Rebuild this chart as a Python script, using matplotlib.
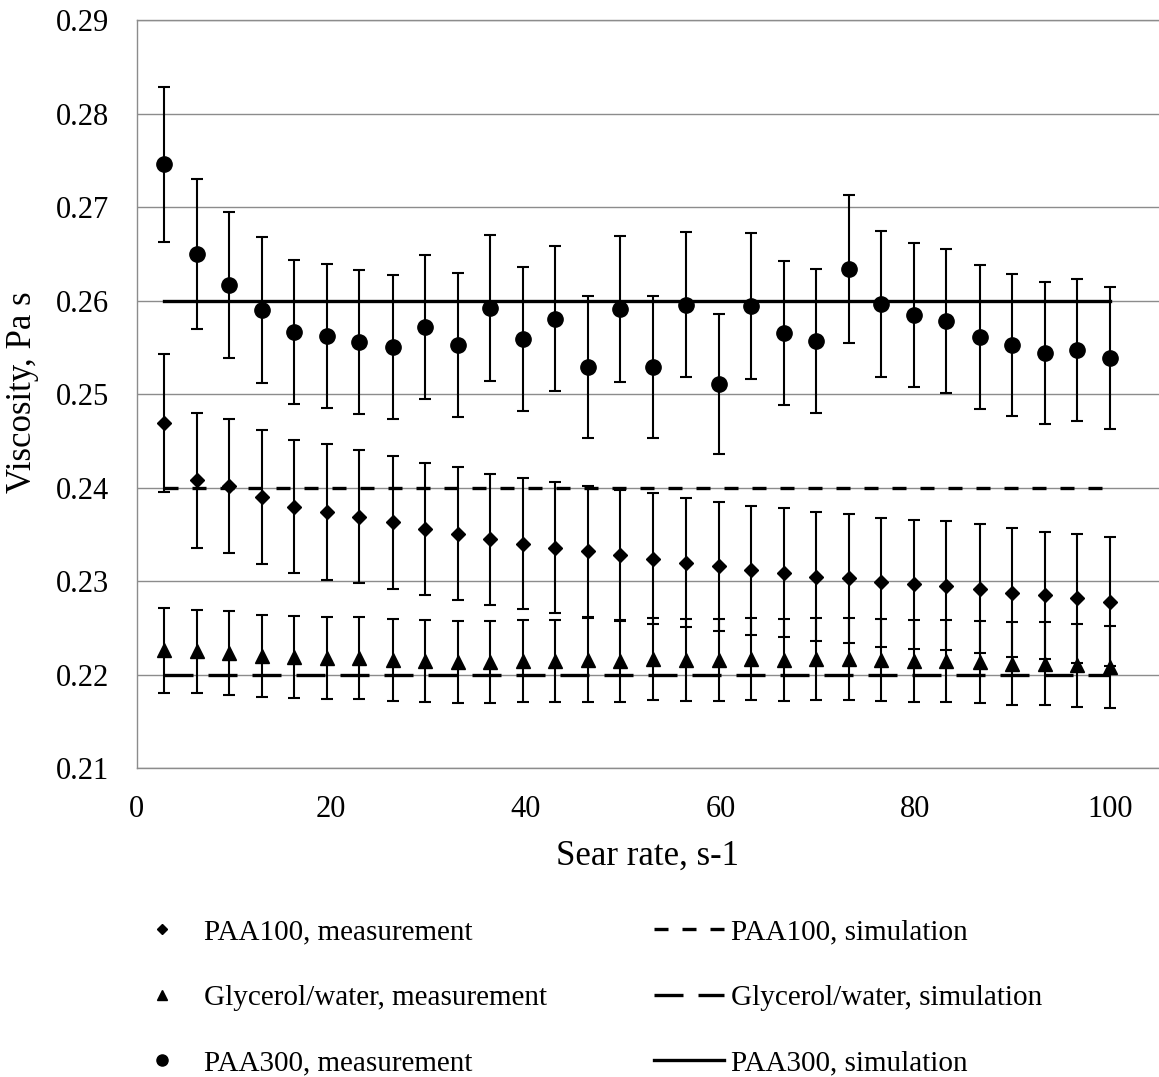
import matplotlib
matplotlib.use("Agg")
import matplotlib.pyplot as plt
from matplotlib.lines import Line2D

plt.rcParams["font.family"] = ["Liberation Serif", "DejaVu Serif"]

# shear rate points (1/s)
shear_rate = [2.8, 6.2, 9.5, 12.9, 16.2, 19.6, 22.9, 26.3, 29.6, 33.0,
              36.3, 39.7, 43.0, 46.4, 49.7, 53.1, 56.4, 59.8, 63.1, 66.5,
              69.8, 73.2, 76.5, 79.9, 83.2, 86.6, 89.9, 93.3, 96.6, 100.0]

# measured viscosities (Pa s) and their error bars
paa100 = [0.2469, 0.2408, 0.2402, 0.2390, 0.2380, 0.2374, 0.2369, 0.2363, 0.2356, 0.2351,
          0.2345, 0.2340, 0.2336, 0.2332, 0.2328, 0.2324, 0.2320, 0.2316, 0.2312, 0.2309,
          0.2305, 0.2303, 0.2299, 0.2297, 0.2295, 0.2292, 0.2288, 0.2285, 0.2282, 0.2278]
paa100_err = [0.0074, 0.0072, 0.0072, 0.0072, 0.0071, 0.0073, 0.0071, 0.0071, 0.0071, 0.0071,
              0.0070, 0.0070, 0.0070, 0.0070, 0.0070, 0.0070, 0.0069, 0.0069, 0.0069, 0.0069,
              0.0069, 0.0069, 0.0069, 0.0069, 0.0069, 0.0069, 0.0069, 0.0068, 0.0069, 0.0069]

glycerol = [0.2226, 0.2225, 0.2223, 0.2220, 0.2219, 0.2218, 0.2218, 0.2216, 0.2215, 0.2214,
            0.2214, 0.2215, 0.2215, 0.2216, 0.2215, 0.2217, 0.2216, 0.2216, 0.2217, 0.2216,
            0.2217, 0.2217, 0.2216, 0.2215, 0.2215, 0.2214, 0.2212, 0.2212, 0.2210, 0.2208]
glycerol_err = [0.0045, 0.0044, 0.0045, 0.0044, 0.0044, 0.0044, 0.0044, 0.0044, 0.0044, 0.0044,
                0.0044, 0.0044, 0.0044, 0.0045, 0.0044, 0.0044, 0.0044, 0.0044, 0.0044, 0.0044,
                0.0044, 0.0044, 0.0044, 0.0044, 0.0044, 0.0044, 0.0044, 0.0044, 0.0044, 0.0044]

paa300 = [0.2746, 0.2650, 0.2617, 0.2590, 0.2567, 0.2562, 0.2556, 0.2551, 0.2572, 0.2553,
          0.2592, 0.2559, 0.2581, 0.2529, 0.2591, 0.2529, 0.2596, 0.2511, 0.2594, 0.2566,
          0.2557, 0.2634, 0.2597, 0.2585, 0.2578, 0.2561, 0.2553, 0.2544, 0.2547, 0.2539]
paa300_err = [0.0083, 0.0080, 0.0078, 0.0078, 0.0077, 0.0077, 0.0077, 0.0077, 0.0077, 0.0077,
              0.0078, 0.0077, 0.0078, 0.0076, 0.0078, 0.0076, 0.0078, 0.0075, 0.0078, 0.0077,
              0.0077, 0.0079, 0.0078, 0.0077, 0.0077, 0.0077, 0.0076, 0.0076, 0.0076, 0.0076]

# simulated (constant) viscosities
paa100_sim = 0.24
glycerol_sim = 0.22
paa300_sim = 0.26

x_ticks = [0, 20, 40, 60, 80, 100]
y_ticks = [0.21, 0.22, 0.23, 0.24, 0.25, 0.26, 0.27, 0.28, 0.29]

# line dash patterns (in units of line width)
short_dash = (4.2, 4.2)
long_dash = (8.7, 4.5)

W, H = 1159, 1077
fig = plt.figure(figsize=(W / 100, H / 100), dpi=100)
ax = fig.add_axes([136.5 / W, 1 - 768.3 / H, 1 - 136.5 / W, (768.3 - 20.3) / H])

err_kw = dict(color="black", ecolor="black", elinewidth=1.5, capsize=4.1, capthick=1.5,
              linestyle="none", zorder=3)
ax.errorbar(shear_rate, paa100, yerr=paa100_err, marker="D", markersize=7.5, **err_kw)
ax.errorbar(shear_rate, glycerol, yerr=glycerol_err, marker="^", markersize=10.5, **err_kw)
ax.errorbar(shear_rate, paa300, yerr=paa300_err, marker="o", markersize=11, **err_kw)

x_sim = [shear_rate[0], shear_rate[-1]]
ax.plot(x_sim, [paa100_sim] * 2, color="black", lw=2.4, dashes=short_dash, zorder=4)
ax.plot(x_sim, [glycerol_sim] * 2, color="black", lw=2.4, dashes=long_dash, zorder=4)
ax.plot(x_sim, [paa300_sim] * 2, color="black", lw=2.4, zorder=4)

ax.set_xlim(0, (W - 136.5) / 9.735)
ax.set_ylim(0.21, 0.29)
ax.set_xticks(x_ticks)
ax.set_yticks(y_ticks)
ax.set_yticklabels([f"{v:.2f}" for v in y_ticks])
ax.tick_params(axis="both", length=0, labelsize=22)
ax.tick_params(axis="y", pad=20)
ax.tick_params(axis="x", pad=19)
ax.grid(axis="y", color="#8c8c8c", lw=1.0)
ax.set_axisbelow(True)
for side in ["left", "bottom", "top"]:
    ax.spines[side].set_color("#8c8c8c")
    ax.spines[side].set_linewidth(1.0)
ax.spines["right"].set_visible(False)

fig.text(647 / W, 1 - 856 / H, "Sear rate, s-1", fontsize=25, ha="center", va="center")
fig.text(23 / W, 1 - 392 / H, "Viscosity, Pa s", fontsize=25, ha="center", va="center",
         rotation=90)

handles = [
    Line2D([], [], color="black", marker="D", markersize=5.4, linestyle="none"),
    Line2D([], [], color="black", marker="^", markersize=7.5, linestyle="none"),
    Line2D([], [], color="black", marker="o", markersize=8, linestyle="none"),
    Line2D([], [], color="black", lw=2.4, dashes=short_dash),
    Line2D([], [], color="black", lw=2.4, dashes=long_dash),
    Line2D([], [], color="black", lw=2.4),
]
labels = ["PAA100, measurement", "Glycerol/water, measurement", "PAA300, measurement",
          "PAA100, simulation", "Glycerol/water, simulation", "PAA300, simulation"]
fig.legend(handles, labels, ncol=2, loc="upper left",
           bbox_to_anchor=(126.7 / W, 1 - 919 / H), frameon=False, fontsize=21,
           handlelength=2.4, handletextpad=0.24, columnspacing=3.67,
           labelspacing=1.34, borderpad=0, borderaxespad=0)

fig.savefig("out.png", dpi=100)
